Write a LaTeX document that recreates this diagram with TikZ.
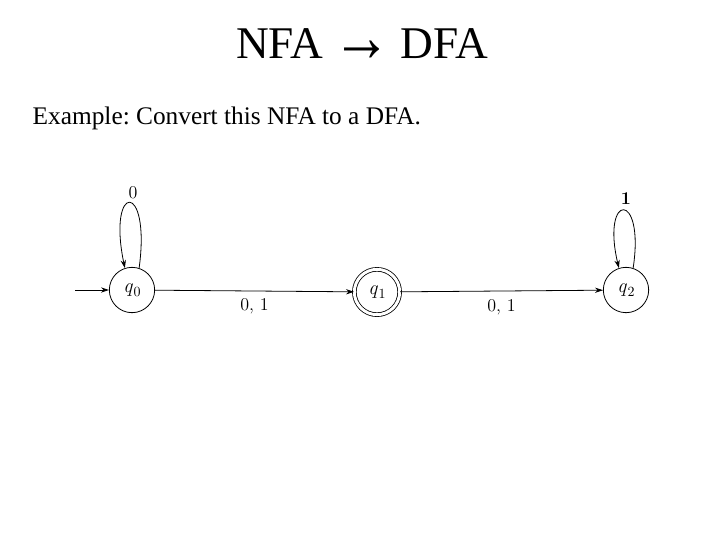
\documentclass[tikz,border=0pt]{standalone}
\usepackage{fontspec}
\newfontfamily\timesf{Liberation Serif}
\usetikzlibrary{arrows.meta}
\newcommand\qst[1]{\textit{q}\kern0.3pt\raisebox{-0.5ex}{\fontsize{10.5}{11}\selectfont #1}}
\begin{document}
\begin{tikzpicture}[x=0.75pt,y=-0.75pt,
  state/.style={draw,circle,minimum size=34pt,inner sep=0pt,line width=0.6pt,font=\fontsize{15}{17}\selectfont},
  acc/.style={state,double,double distance=2.2pt},
  edge/.style={line width=0.6pt,-{Stealth[length=6pt,width=4pt]}},
  lbl/.style={font=\fontsize{13.5}{15}\selectfont}]
\useasboundingbox (0,0) rectangle (720,540);
\node[font=\timesf\fontsize{34}{38}\selectfont] (title) at (362,45) {NFA\kern-0.05em\ \raisebox{-0.06em}{\scalebox{1.3}[1.6]{→}}\ \kern-0.05em DFA};
\node[font=\timesf\fontsize{19}{23}\selectfont,anchor=west] (sub) at (28,118) {\frenchspacing Example: Convert this NFA to a DFA.};

\node[state] (q0) at (132,290) {\qst{0}};
\node[acc] (q1) at (377,292) {\qst{1}};
\node[state] (q2) at (626,290) {\qst{2}};
\coordinate (start) at (75,290);

\draw[edge] (start) -- (q0);
\draw[edge] (q0) -- (q1) node[lbl,pos=0.5,below=2pt] (l1) {0, 1};
\draw[edge] (q1) -- (q2) node[lbl,pos=0.5,below=3pt] (l2) {0, 1};
\draw[edge] (q0.72) .. controls +(12,-88) and +(-18,-86) .. (q0.108);
\node[lbl] (l0) at (133,193) {0};
\draw[edge] (q2.72) .. controls +(12,-78) and +(-18,-76) .. (q2.108);
\node[lbl] (l3) at (626,199) {\bfseries 1};
\end{tikzpicture}
\end{document}
